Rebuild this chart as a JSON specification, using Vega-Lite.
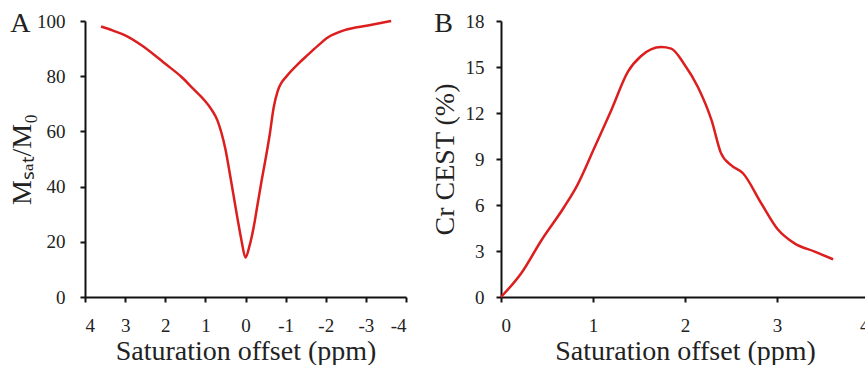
{
  "$schema": "https://vega.github.io/schema/vega-lite/v6.json",
  "padding": {"left": 8, "top": 10, "right": 0, "bottom": 0},
  "background": "white",
  "spacing": 24,
  "config": {
    "view": {"stroke": null},
    "axis": {
      "domainColor": "#111", "domainWidth": 2, "tickColor": "#111", "tickWidth": 2, "tickSize": 5,
      "grid": false, "labelFont": "Liberation Serif", "labelFontSize": 19, "labelColor": "#222",
      "titleFont": "Liberation Serif", "titleFontSize": 28, "titleFontWeight": "normal", "titleColor": "#222"
    },
    "axisX": {"labelPadding": 14, "titlePadding": 2},
    "axisY": {"labelPadding": 15, "titlePadding": 0},
    "title": {"font": "Liberation Serif", "fontSize": 28, "fontWeight": "normal", "color": "#222"}
  },
  "datasets": {
    "zspec": [
      {"offset": 3.6, "value": 98.0}, {"offset": 3.3, "value": 96.5}, {"offset": 3.0, "value": 94.8},
      {"offset": 2.6, "value": 91.3}, {"offset": 2.27, "value": 87.7}, {"offset": 2.0, "value": 84.5},
      {"offset": 1.6, "value": 79.8}, {"offset": 1.3, "value": 75.4}, {"offset": 1.03, "value": 71.4},
      {"offset": 0.85, "value": 68.0}, {"offset": 0.7, "value": 64.0}, {"offset": 0.6, "value": 59.5},
      {"offset": 0.5, "value": 53.5}, {"offset": 0.4, "value": 45.5}, {"offset": 0.3, "value": 37.0},
      {"offset": 0.2, "value": 28.5}, {"offset": 0.1, "value": 20.5}, {"offset": 0.0, "value": 14.3},
      {"offset": -0.1, "value": 18.5}, {"offset": -0.2, "value": 25.0}, {"offset": -0.3, "value": 33.5},
      {"offset": -0.4, "value": 42.0}, {"offset": -0.5, "value": 50.0}, {"offset": -0.6, "value": 58.5},
      {"offset": -0.7, "value": 68.5}, {"offset": -0.8, "value": 74.5}, {"offset": -1.05, "value": 80.4},
      {"offset": -1.3, "value": 84.3}, {"offset": -1.55, "value": 87.7}, {"offset": -1.8, "value": 91.0},
      {"offset": -2.05, "value": 94.0}, {"offset": -2.47, "value": 96.7}, {"offset": -3.05, "value": 98.4},
      {"offset": -3.63, "value": 100.0}
    ],
    "cest": [
      {"offset": 0.0, "value": 0.0}, {"offset": 0.22, "value": 1.55}, {"offset": 0.44, "value": 3.7},
      {"offset": 0.69, "value": 5.9}, {"offset": 0.83, "value": 7.3}, {"offset": 1.02, "value": 9.8},
      {"offset": 1.2, "value": 12.2}, {"offset": 1.38, "value": 14.7}, {"offset": 1.52, "value": 15.7},
      {"offset": 1.74, "value": 16.3}, {"offset": 1.85, "value": 16.2}, {"offset": 1.99, "value": 15.2},
      {"offset": 2.14, "value": 13.7}, {"offset": 2.29, "value": 11.5}, {"offset": 2.39, "value": 9.4},
      {"offset": 2.5, "value": 8.6}, {"offset": 2.63, "value": 8.07}, {"offset": 2.83, "value": 6.1},
      {"offset": 3.01, "value": 4.4}, {"offset": 3.19, "value": 3.5}, {"offset": 3.41, "value": 2.96},
      {"offset": 3.61, "value": 2.46}
    ]
  },
  "hconcat": [
    {
      "width": 321, "height": 276,
      "title": {"text": "A", "orient": "left", "anchor": "end", "frame": "group", "angle": 0, "align": "left", "baseline": "alphabetic", "offset": 0, "dx": 22, "dy": 11},
      "data": {"name": "zspec"},
      "mark": {"type": "line", "interpolate": "monotone", "color": "#dc1e1e", "strokeWidth": 2.5},
      "encoding": {
        "x": {"field": "offset", "type": "quantitative", "title": "Saturation offset (ppm)",
              "scale": {"domain": [-4, 4], "reverse": true, "nice": false},
              "axis": {"values": [-4, -3, -2, -1, 0, 1, 2, 3, 4], "labelExpr": "replace(datum.label, '−', '-')"}},
        "y": {"field": "value", "type": "quantitative", "title": "Mₛₐₜ/M₀",
              "scale": {"domain": [0, 100], "nice": false},
              "axis": {"values": [0, 20, 40, 60, 80, 100]}}
      }
    },
    {
      "width": 368, "height": 276,
      "title": {"text": "B", "orient": "left", "anchor": "end", "frame": "group", "angle": 0, "align": "left", "baseline": "alphabetic", "offset": 0, "dx": 22, "dy": 11},
      "data": {"name": "cest"},
      "mark": {"type": "line", "interpolate": "monotone", "color": "#dc1e1e", "strokeWidth": 2.5},
      "encoding": {
        "x": {"field": "offset", "type": "quantitative", "title": "Saturation offset (ppm)",
              "scale": {"domain": [0, 4], "nice": false},
              "axis": {"values": [0, 1, 2, 3, 4]}},
        "y": {"field": "value", "type": "quantitative", "title": "Cr CEST (%)",
              "scale": {"domain": [0, 18], "nice": false},
              "axis": {"values": [0, 3, 6, 9, 12, 15, 18], "labelPadding": 12, "titlePadding": 6}}
      }
    }
  ]
}
